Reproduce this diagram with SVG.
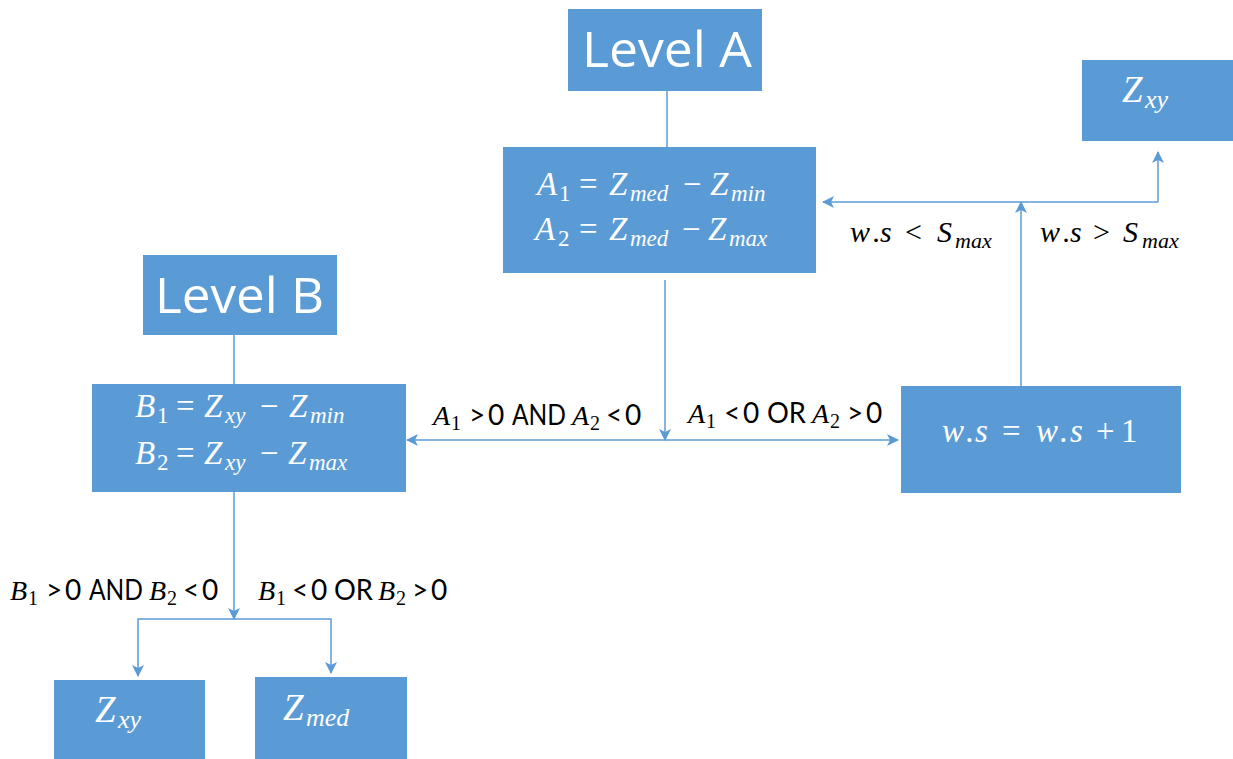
<svg xmlns="http://www.w3.org/2000/svg" width="1233" height="759" viewBox="0 0 1233 759">
  <style>
    .box { fill: #5B9BD5; }
    .title { font-family: "Open Sans", "Noto Sans", sans-serif; font-size: 49px; fill: #ffffff; }
    .math { font-family: "Liberation Serif", "DejaVu Serif", serif; font-style: italic; fill: #ffffff; font-size: 33px; }
    .big { font-size: 37px; }
    .up { font-style: normal; }
    .sub { font-size: 23px; }
    .bsub { font-size: 26px; }
    .lbl { font-family: "Lato", "Liberation Sans", sans-serif; font-size: 28px; fill: #000000; }
    .lm { font-family: "Liberation Serif", "DejaVu Serif", serif; font-style: italic; font-size: 28px; }
    .ls { font-family: "Liberation Serif", serif; font-style: normal; font-size: 20px; }
    .cond { font-family: "Liberation Serif", "DejaVu Serif", serif; font-style: italic; font-size: 30px; fill: #000000; }
    .csub { font-size: 22px; }
    .wire { fill: none; stroke: #5B9BD5; stroke-width: 1.5; }
  </style>
  <defs>
    <marker id="arrow" viewBox="0 0 12 12" refX="11" refY="6" markerWidth="12" markerHeight="12" markerUnits="userSpaceOnUse" orient="auto-start-reverse">
      <path d="M0,0 L12,6 L0,12 L3,6 Z" fill="#5B9BD5"/>
    </marker>
  </defs>

  <rect width="1233" height="759" fill="#ffffff"/>

  <!-- connectors -->
  <g id="connectors" class="wire">
    <line x1="667" y1="91" x2="667" y2="147"/>
    <line x1="234" y1="335" x2="234" y2="384"/>
    <line x1="665" y1="280" x2="665" y2="440" marker-end="url(#arrow)"/>
    <line x1="407" y1="440" x2="898" y2="440" marker-start="url(#arrow)" marker-end="url(#arrow)"/>
    <line x1="1021" y1="386" x2="1021" y2="202" marker-end="url(#arrow)"/>
    <polyline points="1158,202 823,202" marker-end="url(#arrow)"/>
    <polyline points="1158,202 1158,152" marker-end="url(#arrow)"/>
    <line x1="234" y1="492" x2="234" y2="619" marker-end="url(#arrow)"/>
    <polyline points="138,676 138,619 331,619 331,673" marker-start="url(#arrow)" marker-end="url(#arrow)"/>
  </g>

  <!-- Level A -->
  <g id="level-a">
    <rect class="box" x="568" y="9" width="194" height="82"/>
    <text class="title" x="582" y="67" textLength="170" lengthAdjust="spacingAndGlyphs">Level A</text>
  </g>

  <!-- A computation -->
  <g id="a-calc">
    <rect class="box" x="503" y="147" width="313" height="126"/>
    <text class="math"><tspan x="537" y="195">A</tspan><tspan class="sub up" x="559" y="201">1</tspan><tspan class="up" x="579" y="195">=</tspan><tspan x="609" y="195">Z</tspan><tspan class="sub" x="630" y="201">med</tspan><tspan class="up" x="683" y="195">−</tspan><tspan x="710" y="195">Z</tspan><tspan class="sub" x="731" y="201">min</tspan></text>
    <text class="math"><tspan x="535" y="240">A</tspan><tspan class="sub up" x="558" y="246">2</tspan><tspan class="up" x="579" y="240">=</tspan><tspan x="609" y="240">Z</tspan><tspan class="sub" x="630" y="246">med</tspan><tspan class="up" x="682" y="240">−</tspan><tspan x="708" y="240">Z</tspan><tspan class="sub" x="729" y="246">max</tspan></text>
  </g>

  <!-- Level B -->
  <g id="level-b">
    <rect class="box" x="143" y="255" width="194" height="80"/>
    <text class="title" x="155" y="313" textLength="169" lengthAdjust="spacingAndGlyphs">Level B</text>
  </g>

  <!-- B computation -->
  <g id="b-calc">
    <rect class="box" x="92" y="384" width="314" height="108"/>
    <text class="math"><tspan x="135" y="417">B</tspan><tspan class="sub up" x="157" y="423">1</tspan><tspan class="up" x="176" y="417">=</tspan><tspan x="204" y="417">Z</tspan><tspan class="sub" x="225" y="423">xy</tspan><tspan class="up" x="260" y="417">−</tspan><tspan x="289" y="417">Z</tspan><tspan class="sub" x="310" y="423">min</tspan></text>
    <text class="math"><tspan x="135" y="464">B</tspan><tspan class="sub up" x="157" y="470">2</tspan><tspan class="up" x="176" y="464">=</tspan><tspan x="204" y="464">Z</tspan><tspan class="sub" x="225" y="470">xy</tspan><tspan class="up" x="260" y="464">−</tspan><tspan x="288" y="464">Z</tspan><tspan class="sub" x="309" y="470">max</tspan></text>
  </g>

  <!-- counter update -->
  <g id="ws-update">
    <rect class="box" x="901" y="386" width="280" height="107"/>
    <text class="math" font-size="32"><tspan x="942" y="442">w</tspan><tspan x="966" y="442">.</tspan><tspan x="975" y="442">s</tspan><tspan class="up" x="1002" y="442">=</tspan><tspan x="1036" y="442">w</tspan><tspan x="1060" y="442">.</tspan><tspan x="1070" y="442">s</tspan><tspan class="up" x="1096" y="442">+</tspan><tspan class="up" x="1121" y="442">1</tspan></text>
  </g>

  <!-- result top right -->
  <g id="zxy-top">
    <rect class="box" x="1082" y="60" width="151" height="81"/>
    <text class="math big"><tspan x="1122" y="102">Z</tspan><tspan class="bsub" x="1145" y="108">xy</tspan></text>
  </g>

  <!-- results bottom -->
  <g id="zxy-bottom">
    <rect class="box" x="54" y="680" width="151" height="79"/>
    <text class="math big"><tspan x="95" y="722">Z</tspan><tspan class="bsub" x="118" y="728">xy</tspan></text>
  </g>
  <g id="zmed-bottom">
    <rect class="box" x="255" y="677" width="152" height="82"/>
    <text class="math big"><tspan x="283" y="720">Z</tspan><tspan class="bsub" x="306" y="726">med</tspan></text>
  </g>

  <!-- branch labels -->
  <g id="labels">
    <text class="lbl"><tspan class="lm" x="433" y="425">A</tspan><tspan class="ls" x="451" y="430">1</tspan><tspan x="469" y="425">&gt;</tspan><tspan x="488" y="425">0</tspan><tspan x="512" y="425" textLength="54" lengthAdjust="spacingAndGlyphs">AND</tspan><tspan class="lm" x="572" y="425">A</tspan><tspan class="ls" x="590" y="430">2</tspan><tspan x="606" y="425">&lt;</tspan><tspan x="625" y="425">0</tspan></text>
    <text class="lbl"><tspan class="lm" x="688" y="423">A</tspan><tspan class="ls" x="706" y="428">1</tspan><tspan x="724" y="423">&lt;</tspan><tspan x="743" y="423">0</tspan><tspan x="767" y="423" textLength="39" lengthAdjust="spacingAndGlyphs">OR</tspan><tspan class="lm" x="812" y="423">A</tspan><tspan class="ls" x="830" y="428">2</tspan><tspan x="847" y="423">&gt;</tspan><tspan x="866" y="423">0</tspan></text>
    <text class="lbl"><tspan class="lm" x="10" y="600">B</tspan><tspan class="ls" x="28" y="605">1</tspan><tspan x="46" y="600">&gt;</tspan><tspan x="65" y="600">0</tspan><tspan x="89" y="600" textLength="54" lengthAdjust="spacingAndGlyphs">AND</tspan><tspan class="lm" x="149" y="600">B</tspan><tspan class="ls" x="167" y="605">2</tspan><tspan x="183" y="600">&lt;</tspan><tspan x="202" y="600">0</tspan></text>
    <text class="lbl"><tspan class="lm" x="258" y="600">B</tspan><tspan class="ls" x="276" y="605">1</tspan><tspan x="292" y="600">&lt;</tspan><tspan x="311" y="600">0</tspan><tspan x="334" y="600" textLength="39" lengthAdjust="spacingAndGlyphs">OR</tspan><tspan class="lm" x="378" y="600">B</tspan><tspan class="ls" x="396" y="605">2</tspan><tspan x="412" y="600">&gt;</tspan><tspan x="431" y="600">0</tspan></text>
    <text class="cond"><tspan x="850" y="242">w</tspan><tspan x="873" y="242">.</tspan><tspan x="880" y="242">s</tspan><tspan class="up" x="905" y="242">&lt;</tspan><tspan x="937" y="242">S</tspan><tspan class="csub" x="955" y="248">max</tspan></text>
    <text class="cond"><tspan x="1040" y="242">w</tspan><tspan x="1063" y="242">.</tspan><tspan x="1070" y="242">s</tspan><tspan class="up" x="1093" y="242">&gt;</tspan><tspan x="1123" y="242">S</tspan><tspan class="csub" x="1142" y="248">max</tspan></text>
  </g>
</svg>
